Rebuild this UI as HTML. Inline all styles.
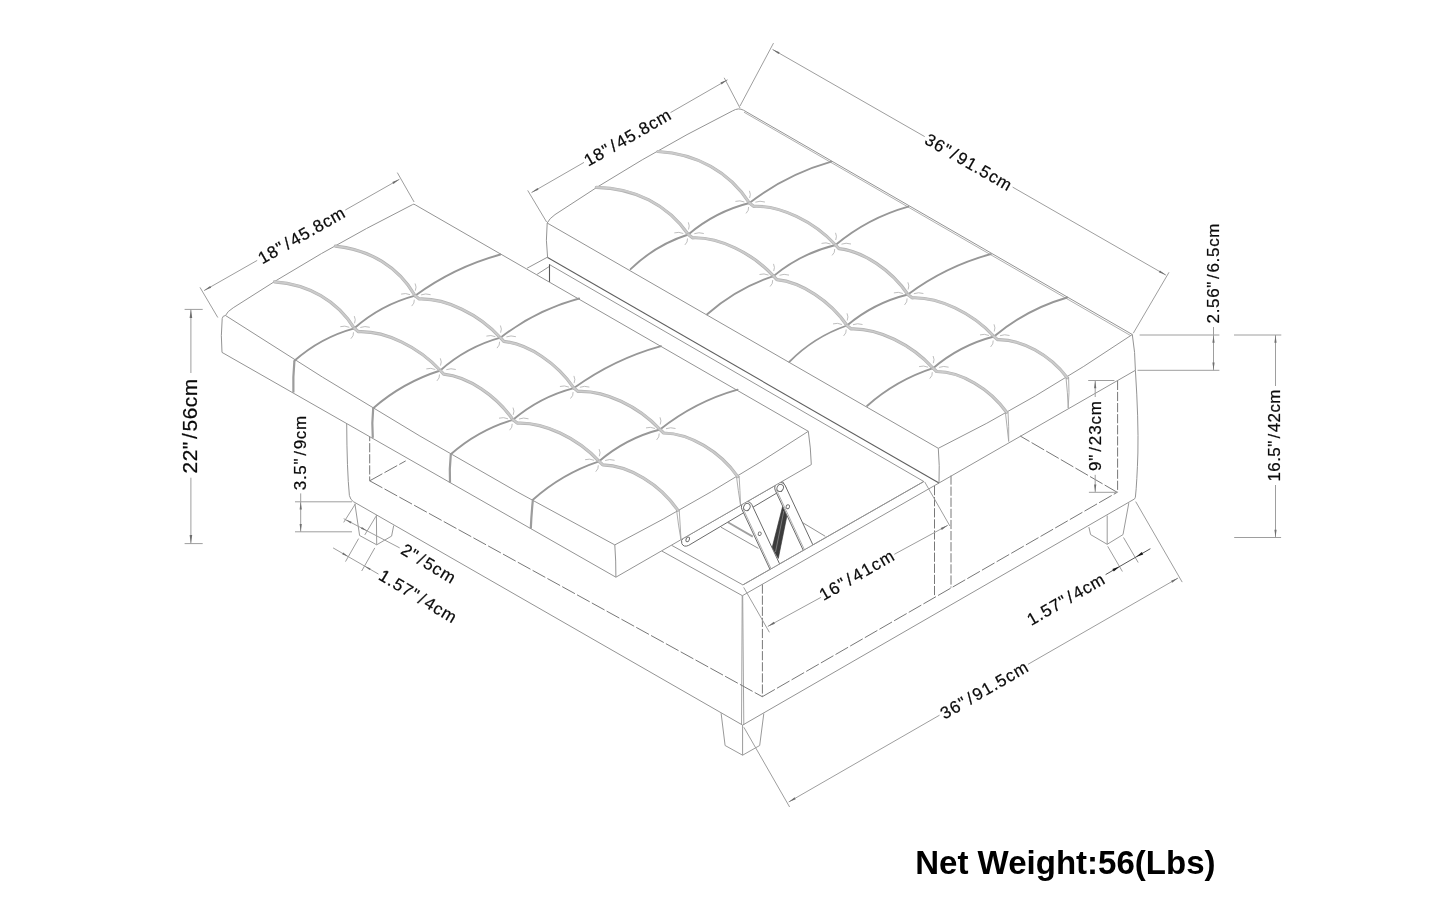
<!DOCTYPE html>
<html><head><meta charset="utf-8"><title>Ottoman dimensions</title>
<style>
html,body{margin:0;padding:0;background:#fff;}
body{width:1445px;height:905px;overflow:hidden;font-family:"Liberation Sans",sans-serif;}
svg{display:block;will-change:transform;filter:grayscale(1);}
svg text{font-family:"Liberation Sans",sans-serif;}
</style></head><body>
<svg width="1445" height="905" viewBox="0 0 1445 905">
<rect width="1445" height="905" fill="#fff"/>
<path d="M354.9,503.7 L359.6,535.5 L376.7,544.8 L391.6,536.1 L393.7,525.5" stroke="#9a9a9a" stroke-width="1.0" fill="none" />
<line x1="376.4" y1="515.0" x2="376.7" y2="544.8" stroke="#9a9a9a" stroke-width="1.0" />
<path d="M721.1,713.2 L725.1,745.5 L742.6,755.2 L759.7,745.5 L763.8,713.5" stroke="#9a9a9a" stroke-width="1.0" fill="none" />
<line x1="742.6" y1="725.1" x2="742.6" y2="755.2" stroke="#9a9a9a" stroke-width="1.0" />
<path d="M1128.8,503.1 L1123.0,534.6 L1107.2,544.3 L1090.6,534.6 L1088.9,527.1" stroke="#9a9a9a" stroke-width="1.0" fill="none" />
<line x1="1107.2" y1="515.5" x2="1107.2" y2="544.3" stroke="#9a9a9a" stroke-width="1.0" />
<path d="M346.7,423 Q346.9,470 349.4,495.5 Q350.5,500 353.3,501.6" stroke="#949494" stroke-width="1.0" fill="none" />
<line x1="353.3" y1="501.6" x2="742.6" y2="725.1" stroke="#949494" stroke-width="1.0" />
<line x1="742.2" y1="595.7" x2="741.5" y2="725.0" stroke="#9a9a9a" stroke-width="0.9" />
<line x1="742.7" y1="595.7" x2="743.8" y2="725.0" stroke="#9a9a9a" stroke-width="0.9" />
<line x1="742.6" y1="725.1" x2="1134.6" y2="498.9" stroke="#949494" stroke-width="1.0" />
<path d="M1135.4,370.3 Q1138.6,420 1137.9,453 Q1137,482 1135.4,497.2 L1134.6,498.9" stroke="#949494" stroke-width="1.0" fill="none" />
<line x1="742.4" y1="595.7" x2="661.6" y2="550.9" stroke="#949494" stroke-width="1.0" />
<line x1="742.9" y1="584.9" x2="671.4" y2="545.2" stroke="#949494" stroke-width="1.0" />
<line x1="742.4" y1="595.7" x2="939.0" y2="483.0" stroke="#949494" stroke-width="1.0" />
<line x1="742.9" y1="584.9" x2="923.8" y2="481.5" stroke="#949494" stroke-width="1.0" />
<line x1="549.5" y1="264.6" x2="923.8" y2="481.5" stroke="#8a8a8a" stroke-width="0.9" />
<line x1="527.1" y1="268.2" x2="547.6" y2="257.1" stroke="#949494" stroke-width="1.0" />
<line x1="537.1" y1="274.3" x2="549.3" y2="266.5" stroke="#949494" stroke-width="1.0" />
<line x1="549.5" y1="264.3" x2="549.5" y2="282.0" stroke="#555" stroke-width="1.1" />
<line x1="802.9" y1="522.8" x2="825.3" y2="536.3" stroke="#949494" stroke-width="1.0" />
<line x1="721.0" y1="527.2" x2="758.4" y2="548.4" stroke="#949494" stroke-width="1.0" />
<line x1="727.9" y1="522.3" x2="752.8" y2="536.6" stroke="#a0a0a0" stroke-width="1.8" />
<line x1="369.7" y1="432.0" x2="369.7" y2="480.8" stroke="#787878" stroke-width="1.0" stroke-dasharray="9.2 1.9" />
<line x1="369.7" y1="480.8" x2="405.7" y2="460.9" stroke="#787878" stroke-width="1.0" stroke-dasharray="14.5 2.4" />
<line x1="369.7" y1="480.8" x2="762.3" y2="696.7" stroke="#787878" stroke-width="1.0" stroke-dasharray="14.5 2.4" />
<line x1="762.4" y1="584.5" x2="762.4" y2="696.7" stroke="#787878" stroke-width="1.0" stroke-dasharray="9.2 1.9" />
<line x1="762.3" y1="696.7" x2="1117.2" y2="492.3" stroke="#787878" stroke-width="1.0" stroke-dasharray="14.5 2.4" />
<line x1="1117.6" y1="380.8" x2="1117.6" y2="492.3" stroke="#787878" stroke-width="1.0" stroke-dasharray="9.2 1.9" />
<line x1="1117.2" y1="492.3" x2="1020.0" y2="435.9" stroke="#787878" stroke-width="1.0" stroke-dasharray="14.5 2.4" />
<line x1="934.5" y1="486.0" x2="934.5" y2="597.2" stroke="#787878" stroke-width="1.0" stroke-dasharray="9.2 1.9" />
<line x1="951.0" y1="475.5" x2="951.0" y2="587.6" stroke="#787878" stroke-width="1.0" stroke-dasharray="9.2 1.9" />
<path d="M547.2,223 Q549.3,218.6 555,214.6" stroke="#949494" stroke-width="1.0" fill="none" />
<path d="M555.0,214.6 Q640.5,157.0 732.7,110.8" stroke="#949494" stroke-width="1.0" fill="none" />
<path d="M732.7,110.8 Q738.6,107.4 743.5,110.2" stroke="#949494" stroke-width="1.0" fill="none" />
<line x1="743.5" y1="110.2" x2="1132.3" y2="334.5" stroke="#949494" stroke-width="1.0" />
<line x1="744.0" y1="112.2" x2="1130.8" y2="335.7" stroke="#9a9a9a" stroke-width="0.8" />
<line x1="547.2" y1="223.0" x2="938.3" y2="448.3" stroke="#949494" stroke-width="1.0" />
<path d="M938.3,448.3 Q1035.3,400.5 1132.3,334.5" stroke="#949494" stroke-width="1.0" fill="none" />
<path d="M547.2,223 Q545.4000000000001,240.25 547.6,257.5" stroke="#949494" stroke-width="1.0" fill="none" />
<line x1="547.6" y1="257.5" x2="939.0" y2="483.0" stroke="#5f5f5f" stroke-width="1.1" />
<path d="M938.3,448.3 Q939.8,465.65 939,483" stroke="#949494" stroke-width="1.0" fill="none" />
<line x1="939.0" y1="483.0" x2="1135.4" y2="370.3" stroke="#949494" stroke-width="1.0" />
<path d="M1132.3,334.5 Q1135.3,352.4 1135.4,370.3" stroke="#949494" stroke-width="1.0" fill="none" />
<path d="M831.3,161.7 Q786.4,174.5 749.4,203.0" stroke="#979797" stroke-width="1.85" fill="none" stroke-linecap="round"/>
<path d="M749.4,203.0 Q715.2,211.6 688.3,234.5" stroke="#979797" stroke-width="1.85" fill="none" stroke-linecap="round"/>
<path d="M688.3,234.5 Q655.3,245.0 630.6,269.2" stroke="#979797" stroke-width="1.85" fill="none" stroke-linecap="round"/>
<path d="M908.3,206.6 Q867.8,218.0 835.5,245.0" stroke="#979797" stroke-width="1.85" fill="none" stroke-linecap="round"/>
<path d="M835.5,245.0 Q800.9,253.4 773.5,276.1" stroke="#979797" stroke-width="1.85" fill="none" stroke-linecap="round"/>
<path d="M773.5,276.1 Q736.4,288.3 707.2,314.3" stroke="#979797" stroke-width="1.85" fill="none" stroke-linecap="round"/>
<path d="M990.8,254.1 Q945.5,266.4 907.9,294.5" stroke="#979797" stroke-width="1.85" fill="none" stroke-linecap="round"/>
<path d="M907.9,294.5 Q873.8,302.9 847.0,325.5" stroke="#979797" stroke-width="1.85" fill="none" stroke-linecap="round"/>
<path d="M847.0,325.5 Q813.9,336.9 789.3,361.9" stroke="#979797" stroke-width="1.85" fill="none" stroke-linecap="round"/>
<path d="M1067.2,297.5 Q1026.5,309.2 994.0,336.5" stroke="#979797" stroke-width="1.85" fill="none" stroke-linecap="round"/>
<path d="M994.0,336.5 Q959.9,345.3 933.1,368.2" stroke="#979797" stroke-width="1.85" fill="none" stroke-linecap="round"/>
<path d="M933.1,368.2 Q896.1,380.2 867.0,406.0" stroke="#979797" stroke-width="1.85" fill="none" stroke-linecap="round"/>
<path d="M657.9,151.5 C696.5,153.6 729.6,171.9 749.4,203.0" stroke="#b2b2b2" stroke-width="3.2" fill="none" stroke-linecap="round" stroke-linejoin="round"/>
<path d="M657.9,151.5 C696.5,153.6 729.6,171.9 749.4,203.0" stroke="#cbcbcb" stroke-width="1.9" fill="none" stroke-linecap="round" stroke-linejoin="round"/>
<path d="M749.4,203.0 L753.6,206.3 C780.3,205.3 813.9,221.4 835.5,245.0" stroke="#b2b2b2" stroke-width="3.2" fill="none" stroke-linecap="round" stroke-linejoin="round"/>
<path d="M749.4,203.0 L753.6,206.3 C780.3,205.3 813.9,221.4 835.5,245.0" stroke="#cbcbcb" stroke-width="1.9" fill="none" stroke-linecap="round" stroke-linejoin="round"/>
<path d="M835.5,245.0 L838.9,248.6 C863.2,251.2 891.5,270.3 907.9,294.5" stroke="#b2b2b2" stroke-width="3.2" fill="none" stroke-linecap="round" stroke-linejoin="round"/>
<path d="M835.5,245.0 L838.9,248.6 C863.2,251.2 891.5,270.3 907.9,294.5" stroke="#cbcbcb" stroke-width="1.9" fill="none" stroke-linecap="round" stroke-linejoin="round"/>
<path d="M907.9,294.5 L912.1,297.8 C938.8,296.8 972.4,312.9 994.0,336.5" stroke="#b2b2b2" stroke-width="3.2" fill="none" stroke-linecap="round" stroke-linejoin="round"/>
<path d="M907.9,294.5 L912.1,297.8 C938.8,296.8 972.4,312.9 994.0,336.5" stroke="#cbcbcb" stroke-width="1.9" fill="none" stroke-linecap="round" stroke-linejoin="round"/>
<path d="M994.0,336.5 L997.5,339.6 C1021.5,339.1 1050.1,355.0 1067.2,377.7" stroke="#b2b2b2" stroke-width="3.2" fill="none" stroke-linecap="round" stroke-linejoin="round"/>
<path d="M994.0,336.5 L997.5,339.6 C1021.5,339.1 1050.1,355.0 1067.2,377.7" stroke="#cbcbcb" stroke-width="1.9" fill="none" stroke-linecap="round" stroke-linejoin="round"/>
<path d="M596.3,187.3 C634.3,187.9 667.6,204.6 688.3,234.5" stroke="#b2b2b2" stroke-width="3.2" fill="none" stroke-linecap="round" stroke-linejoin="round"/>
<path d="M596.3,187.3 C634.3,187.9 667.6,204.6 688.3,234.5" stroke="#cbcbcb" stroke-width="1.9" fill="none" stroke-linecap="round" stroke-linejoin="round"/>
<path d="M688.3,234.5 L692.5,237.8 C718.9,236.8 752.2,252.8 773.5,276.1" stroke="#b2b2b2" stroke-width="3.2" fill="none" stroke-linecap="round" stroke-linejoin="round"/>
<path d="M688.3,234.5 L692.5,237.8 C718.9,236.8 752.2,252.8 773.5,276.1" stroke="#cbcbcb" stroke-width="1.9" fill="none" stroke-linecap="round" stroke-linejoin="round"/>
<path d="M773.5,276.1 L776.9,279.7 C801.5,282.1 830.3,301.2 847.0,325.5" stroke="#b2b2b2" stroke-width="3.2" fill="none" stroke-linecap="round" stroke-linejoin="round"/>
<path d="M773.5,276.1 L776.9,279.7 C801.5,282.1 830.3,301.2 847.0,325.5" stroke="#cbcbcb" stroke-width="1.9" fill="none" stroke-linecap="round" stroke-linejoin="round"/>
<path d="M847.0,325.5 L851.2,328.9 C878.0,328.0 911.6,344.4 933.1,368.2" stroke="#b2b2b2" stroke-width="3.2" fill="none" stroke-linecap="round" stroke-linejoin="round"/>
<path d="M847.0,325.5 L851.2,328.9 C878.0,328.0 911.6,344.4 933.1,368.2" stroke="#cbcbcb" stroke-width="1.9" fill="none" stroke-linecap="round" stroke-linejoin="round"/>
<path d="M933.1,368.2 L936.6,371.5 C961.0,371.6 989.8,388.6 1006.6,412.3" stroke="#b2b2b2" stroke-width="3.2" fill="none" stroke-linecap="round" stroke-linejoin="round"/>
<path d="M933.1,368.2 L936.6,371.5 C961.0,371.6 989.8,388.6 1006.6,412.3" stroke="#cbcbcb" stroke-width="1.9" fill="none" stroke-linecap="round" stroke-linejoin="round"/>
<path d="M744.4,202.0 q-4.5,-2.0 -9,-0.6" stroke="#b2b2b2" stroke-width="0.85" fill="none" />
<path d="M755.4,202.2 q4.5,-1.8 9.5,-0.2" stroke="#b2b2b2" stroke-width="0.85" fill="none" />
<path d="M749.6,198.0 q1.6,-3.6 -0.2,-7.2" stroke="#b2b2b2" stroke-width="0.85" fill="none" />
<path d="M748.6,207.0 q0.4,3.6 -2.6,6.4" stroke="#b2b2b2" stroke-width="0.85" fill="none" />
<path d="M830.5,244.0 q-4.5,-2.0 -9,-0.6" stroke="#b2b2b2" stroke-width="0.85" fill="none" />
<path d="M841.5,244.2 q4.5,-1.8 9.5,-0.2" stroke="#b2b2b2" stroke-width="0.85" fill="none" />
<path d="M835.7,240.0 q1.6,-3.6 -0.2,-7.2" stroke="#b2b2b2" stroke-width="0.85" fill="none" />
<path d="M834.7,249.0 q0.4,3.6 -2.6,6.4" stroke="#b2b2b2" stroke-width="0.85" fill="none" />
<path d="M902.9,293.5 q-4.5,-2.0 -9,-0.6" stroke="#b2b2b2" stroke-width="0.85" fill="none" />
<path d="M913.9,293.7 q4.5,-1.8 9.5,-0.2" stroke="#b2b2b2" stroke-width="0.85" fill="none" />
<path d="M908.1,289.5 q1.6,-3.6 -0.2,-7.2" stroke="#b2b2b2" stroke-width="0.85" fill="none" />
<path d="M907.1,298.5 q0.4,3.6 -2.6,6.4" stroke="#b2b2b2" stroke-width="0.85" fill="none" />
<path d="M989.0,335.5 q-4.5,-2.0 -9,-0.6" stroke="#b2b2b2" stroke-width="0.85" fill="none" />
<path d="M1000.0,335.7 q4.5,-1.8 9.5,-0.2" stroke="#b2b2b2" stroke-width="0.85" fill="none" />
<path d="M994.2,331.5 q1.6,-3.6 -0.2,-7.2" stroke="#b2b2b2" stroke-width="0.85" fill="none" />
<path d="M993.2,340.5 q0.4,3.6 -2.6,6.4" stroke="#b2b2b2" stroke-width="0.85" fill="none" />
<path d="M683.3,233.5 q-4.5,-2.0 -9,-0.6" stroke="#b2b2b2" stroke-width="0.85" fill="none" />
<path d="M694.3,233.7 q4.5,-1.8 9.5,-0.2" stroke="#b2b2b2" stroke-width="0.85" fill="none" />
<path d="M688.5,229.5 q1.6,-3.6 -0.2,-7.2" stroke="#b2b2b2" stroke-width="0.85" fill="none" />
<path d="M687.5,238.5 q0.4,3.6 -2.6,6.4" stroke="#b2b2b2" stroke-width="0.85" fill="none" />
<path d="M768.5,275.1 q-4.5,-2.0 -9,-0.6" stroke="#b2b2b2" stroke-width="0.85" fill="none" />
<path d="M779.5,275.3 q4.5,-1.8 9.5,-0.2" stroke="#b2b2b2" stroke-width="0.85" fill="none" />
<path d="M773.7,271.1 q1.6,-3.6 -0.2,-7.2" stroke="#b2b2b2" stroke-width="0.85" fill="none" />
<path d="M772.7,280.1 q0.4,3.6 -2.6,6.4" stroke="#b2b2b2" stroke-width="0.85" fill="none" />
<path d="M842.0,324.5 q-4.5,-2.0 -9,-0.6" stroke="#b2b2b2" stroke-width="0.85" fill="none" />
<path d="M853.0,324.7 q4.5,-1.8 9.5,-0.2" stroke="#b2b2b2" stroke-width="0.85" fill="none" />
<path d="M847.2,320.5 q1.6,-3.6 -0.2,-7.2" stroke="#b2b2b2" stroke-width="0.85" fill="none" />
<path d="M846.2,329.5 q0.4,3.6 -2.6,6.4" stroke="#b2b2b2" stroke-width="0.85" fill="none" />
<path d="M928.1,367.2 q-4.5,-2.0 -9,-0.6" stroke="#b2b2b2" stroke-width="0.85" fill="none" />
<path d="M939.1,367.4 q4.5,-1.8 9.5,-0.2" stroke="#b2b2b2" stroke-width="0.85" fill="none" />
<path d="M933.3,363.2 q1.6,-3.6 -0.2,-7.2" stroke="#b2b2b2" stroke-width="0.85" fill="none" />
<path d="M932.3,372.2 q0.4,3.6 -2.6,6.4" stroke="#b2b2b2" stroke-width="0.85" fill="none" />
<path d="M1005.4,412.3 Q1007.1,426.9 1008.7,441.5 Q1009.0,426.9 1008.0,411.7" stroke="#a5a5a5" stroke-width="0.9" fill="none" />
<path d="M1066.0,377.7 Q1067.7,392.85 1068.2,408 Q1069.6000000000001,392.85 1068.6000000000001,377.09999999999997" stroke="#a5a5a5" stroke-width="0.9" fill="none" />
<path d="M683.3,538.3 L782.5,481.3 L786,487.6 L688.6,545.4 Q683.8,547.6 681.8,543.6 Q680.6,540 683.3,538.3 Z" fill="#fff" stroke="#6a6a6a" stroke-width="1"/>
<ellipse cx="687.9" cy="539.3" rx="1.6" ry="2.4" fill="#fff" stroke="#6a6a6a" stroke-width="0.9" transform="rotate(25 687.6 538.9)"/>
<path d="M782.7,506.1 L787,515.4 L778.3,558.4 L772.1,547.8 Z" fill="#3c3c3c" stroke="#333" stroke-width="0.6"/>
<line x1="783.8" y1="511" x2="775.5" y2="552" stroke="#8a8a8a" stroke-width="0.8"/>
<path d="M803.3,550.4 L775.2,490.2 A5.5,5.5 0 0 1 785.2,485.6 L812.9,544.9 Z" fill="#fff" stroke="none"/>
<path d="M803.3,550.4 L775.2,490.2 A5.5,5.5 0 0 1 785.2,485.6 L812.9,544.9" fill="none" stroke="#6a6a6a" stroke-width="1"/>
<line x1="776.4" y1="489.7" x2="804.4" y2="549.7" stroke="#9a9a9a" stroke-width="0.8"/>
<ellipse cx="780.2" cy="487.9" rx="3.1" ry="3.7" fill="#fff" stroke="#6a6a6a" stroke-width="0.9" transform="rotate(25 780.2 487.9)"/>
<ellipse cx="787.8" cy="506.7" rx="1.7" ry="2.0" fill="#fff" stroke="#6a6a6a" stroke-width="0.9" transform="rotate(25 787.8 506.7)"/>
<path d="M770.0,569.4 L741.9,509.3 A5.5,5.5 0 0 1 751.9,504.7 L779.6,563.9 Z" fill="#fff" stroke="none"/>
<path d="M770.0,569.4 L741.9,509.3 A5.5,5.5 0 0 1 751.9,504.7 L779.6,563.9" fill="none" stroke="#6a6a6a" stroke-width="1"/>
<line x1="743.1" y1="508.8" x2="771.1" y2="568.8" stroke="#9a9a9a" stroke-width="0.8"/>
<ellipse cx="746.9" cy="507.0" rx="3.1" ry="3.7" fill="#fff" stroke="#6a6a6a" stroke-width="0.9" transform="rotate(25 746.9 507.0)"/>
<ellipse cx="759.7" cy="533.7" rx="1.5" ry="1.8" fill="#fff" stroke="#6a6a6a" stroke-width="0.9" transform="rotate(25 759.7 533.7)"/>
<line x1="742.9" y1="584.9" x2="923.8" y2="481.5" stroke="#949494" stroke-width="1.0" />
<path d="M225.5,315.5 L414,204 L808.3,431.3 L811.3,464.6 L615.9,577.2 L222,352.4 Z" fill="#fff" stroke="none"/>
<path d="M225.5,315.5 Q227.2,311.5 233.2,307.8" stroke="#949494" stroke-width="1.0" fill="none" />
<path d="M233.2,307.8 Q319.9,251.0 412.6,204.6" stroke="#949494" stroke-width="1.0" fill="none" />
<path d="M412.6,204.6 Q413.8,203.7 415.2,204.8" stroke="#949494" stroke-width="1.0" fill="none" />
<line x1="415.2" y1="204.8" x2="808.3" y2="431.3" stroke="#949494" stroke-width="1.0" />
<path d="M225.5,315.5 Q419.6,441.8 614.8,544.9" stroke="#949494" stroke-width="1.0" fill="none" />
<path d="M614.8,544.9 Q711.5,495 808.3,431.3" stroke="#949494" stroke-width="1.0" fill="none" />
<path d="M225.5,315.5 Q222.6,315.6 222.2,318.5 Q220.6,336 222,352.4" stroke="#949494" stroke-width="1.0" fill="none" />
<line x1="222.0" y1="352.4" x2="615.9" y2="577.2" stroke="#949494" stroke-width="1.0" />
<path d="M614.8,544.9 Q616.0,561.05 615.9,577.2" stroke="#949494" stroke-width="1.0" fill="none" />
<line x1="615.9" y1="577.2" x2="811.3" y2="464.6" stroke="#949494" stroke-width="1.0" />
<path d="M808.3,431.3 Q810.8,447.95000000000005 811.3,464.6" stroke="#949494" stroke-width="1.0" fill="none" />
<path d="M500.4,254.5 Q453.9,267.2 415.1,295.7" stroke="#979797" stroke-width="1.85" fill="none" stroke-linecap="round"/>
<path d="M415.1,295.7 Q380.9,304.9 354.3,328.3" stroke="#979797" stroke-width="1.85" fill="none" stroke-linecap="round"/>
<path d="M354.3,328.3 Q320.5,337.5 294.4,360.8" stroke="#979797" stroke-width="1.85" fill="none" stroke-linecap="round"/>
<path d="M579.1,298.5 Q535.8,310.2 500.4,337.7" stroke="#979797" stroke-width="1.85" fill="none" stroke-linecap="round"/>
<path d="M500.4,337.7 Q466.5,347.1 440.3,370.5" stroke="#979797" stroke-width="1.85" fill="none" stroke-linecap="round"/>
<path d="M440.3,370.5 Q402.8,382.4 373.2,408.2" stroke="#979797" stroke-width="1.85" fill="none" stroke-linecap="round"/>
<path d="M661.0,346.1 Q613.6,359.2 573.9,388.1" stroke="#979797" stroke-width="1.85" fill="none" stroke-linecap="round"/>
<path d="M573.9,388.1 Q539.8,396.9 513.0,419.8" stroke="#979797" stroke-width="1.85" fill="none" stroke-linecap="round"/>
<path d="M513.0,419.8 Q478.0,430.1 450.8,454.3" stroke="#979797" stroke-width="1.85" fill="none" stroke-linecap="round"/>
<path d="M737.6,389.6 Q694.8,401.7 660.0,429.5" stroke="#979797" stroke-width="1.85" fill="none" stroke-linecap="round"/>
<path d="M660.0,429.5 Q625.8,438.3 599.1,461.3" stroke="#979797" stroke-width="1.85" fill="none" stroke-linecap="round"/>
<path d="M599.1,461.3 Q562.0,473.6 532.9,499.7" stroke="#979797" stroke-width="1.85" fill="none" stroke-linecap="round"/>
<path d="M335.4,246.1 C369.8,249.5 398.6,267.1 415.1,295.7" stroke="#b2b2b2" stroke-width="3.2" fill="none" stroke-linecap="round" stroke-linejoin="round"/>
<path d="M335.4,246.1 C369.8,249.5 398.6,267.1 415.1,295.7" stroke="#cbcbcb" stroke-width="1.9" fill="none" stroke-linecap="round" stroke-linejoin="round"/>
<path d="M415.1,295.7 L419.3,299.0 C445.7,298.1 479.1,314.2 500.4,337.7" stroke="#b2b2b2" stroke-width="3.2" fill="none" stroke-linecap="round" stroke-linejoin="round"/>
<path d="M415.1,295.7 L419.3,299.0 C445.7,298.1 479.1,314.2 500.4,337.7" stroke="#cbcbcb" stroke-width="1.9" fill="none" stroke-linecap="round" stroke-linejoin="round"/>
<path d="M500.4,337.7 L503.8,341.4 C528.5,344.0 557.3,363.5 573.9,388.1" stroke="#b2b2b2" stroke-width="3.2" fill="none" stroke-linecap="round" stroke-linejoin="round"/>
<path d="M500.4,337.7 L503.8,341.4 C528.5,344.0 557.3,363.5 573.9,388.1" stroke="#cbcbcb" stroke-width="1.9" fill="none" stroke-linecap="round" stroke-linejoin="round"/>
<path d="M573.9,388.1 L578.1,391.4 C604.7,390.2 638.4,406.1 660.0,429.5" stroke="#b2b2b2" stroke-width="3.2" fill="none" stroke-linecap="round" stroke-linejoin="round"/>
<path d="M573.9,388.1 L578.1,391.4 C604.7,390.2 638.4,406.1 660.0,429.5" stroke="#cbcbcb" stroke-width="1.9" fill="none" stroke-linecap="round" stroke-linejoin="round"/>
<path d="M660.0,429.5 L663.7,433.0 C689.6,433.3 720.0,451.4 737.7,476.6" stroke="#b2b2b2" stroke-width="3.2" fill="none" stroke-linecap="round" stroke-linejoin="round"/>
<path d="M660.0,429.5 L663.7,433.0 C689.6,433.3 720.0,451.4 737.7,476.6" stroke="#cbcbcb" stroke-width="1.9" fill="none" stroke-linecap="round" stroke-linejoin="round"/>
<path d="M274.5,281.8 C308.4,284.2 337.3,300.6 354.3,328.3" stroke="#b2b2b2" stroke-width="3.2" fill="none" stroke-linecap="round" stroke-linejoin="round"/>
<path d="M274.5,281.8 C308.4,284.2 337.3,300.6 354.3,328.3" stroke="#cbcbcb" stroke-width="1.9" fill="none" stroke-linecap="round" stroke-linejoin="round"/>
<path d="M354.3,328.3 L358.5,331.7 C385.2,330.6 418.8,346.9 440.3,370.5" stroke="#b2b2b2" stroke-width="3.2" fill="none" stroke-linecap="round" stroke-linejoin="round"/>
<path d="M354.3,328.3 L358.5,331.7 C385.2,330.6 418.8,346.9 440.3,370.5" stroke="#cbcbcb" stroke-width="1.9" fill="none" stroke-linecap="round" stroke-linejoin="round"/>
<path d="M440.3,370.5 L443.7,374.1 C468.0,376.6 496.5,395.6 513.0,419.8" stroke="#b2b2b2" stroke-width="3.2" fill="none" stroke-linecap="round" stroke-linejoin="round"/>
<path d="M440.3,370.5 L443.7,374.1 C468.0,376.6 496.5,395.6 513.0,419.8" stroke="#cbcbcb" stroke-width="1.9" fill="none" stroke-linecap="round" stroke-linejoin="round"/>
<path d="M513.0,419.8 L517.2,423.1 C543.8,421.9 577.5,437.9 599.1,461.3" stroke="#b2b2b2" stroke-width="3.2" fill="none" stroke-linecap="round" stroke-linejoin="round"/>
<path d="M513.0,419.8 L517.2,423.1 C543.8,421.9 577.5,437.9 599.1,461.3" stroke="#cbcbcb" stroke-width="1.9" fill="none" stroke-linecap="round" stroke-linejoin="round"/>
<path d="M599.1,461.3 L602.8,464.9 C629.2,465.5 660.1,484.3 677.8,510.2" stroke="#b2b2b2" stroke-width="3.2" fill="none" stroke-linecap="round" stroke-linejoin="round"/>
<path d="M599.1,461.3 L602.8,464.9 C629.2,465.5 660.1,484.3 677.8,510.2" stroke="#cbcbcb" stroke-width="1.9" fill="none" stroke-linecap="round" stroke-linejoin="round"/>
<path d="M410.1,294.7 q-4.5,-2.0 -9,-0.6" stroke="#b2b2b2" stroke-width="0.85" fill="none" />
<path d="M421.1,294.9 q4.5,-1.8 9.5,-0.2" stroke="#b2b2b2" stroke-width="0.85" fill="none" />
<path d="M415.3,290.7 q1.6,-3.6 -0.2,-7.2" stroke="#b2b2b2" stroke-width="0.85" fill="none" />
<path d="M414.3,299.7 q0.4,3.6 -2.6,6.4" stroke="#b2b2b2" stroke-width="0.85" fill="none" />
<path d="M495.4,336.7 q-4.5,-2.0 -9,-0.6" stroke="#b2b2b2" stroke-width="0.85" fill="none" />
<path d="M506.4,336.9 q4.5,-1.8 9.5,-0.2" stroke="#b2b2b2" stroke-width="0.85" fill="none" />
<path d="M500.6,332.7 q1.6,-3.6 -0.2,-7.2" stroke="#b2b2b2" stroke-width="0.85" fill="none" />
<path d="M499.6,341.7 q0.4,3.6 -2.6,6.4" stroke="#b2b2b2" stroke-width="0.85" fill="none" />
<path d="M568.9,387.1 q-4.5,-2.0 -9,-0.6" stroke="#b2b2b2" stroke-width="0.85" fill="none" />
<path d="M579.9,387.3 q4.5,-1.8 9.5,-0.2" stroke="#b2b2b2" stroke-width="0.85" fill="none" />
<path d="M574.1,383.1 q1.6,-3.6 -0.2,-7.2" stroke="#b2b2b2" stroke-width="0.85" fill="none" />
<path d="M573.1,392.1 q0.4,3.6 -2.6,6.4" stroke="#b2b2b2" stroke-width="0.85" fill="none" />
<path d="M655.0,428.5 q-4.5,-2.0 -9,-0.6" stroke="#b2b2b2" stroke-width="0.85" fill="none" />
<path d="M666.0,428.7 q4.5,-1.8 9.5,-0.2" stroke="#b2b2b2" stroke-width="0.85" fill="none" />
<path d="M660.2,424.5 q1.6,-3.6 -0.2,-7.2" stroke="#b2b2b2" stroke-width="0.85" fill="none" />
<path d="M659.2,433.5 q0.4,3.6 -2.6,6.4" stroke="#b2b2b2" stroke-width="0.85" fill="none" />
<path d="M349.3,327.3 q-4.5,-2.0 -9,-0.6" stroke="#b2b2b2" stroke-width="0.85" fill="none" />
<path d="M360.3,327.5 q4.5,-1.8 9.5,-0.2" stroke="#b2b2b2" stroke-width="0.85" fill="none" />
<path d="M354.5,323.3 q1.6,-3.6 -0.2,-7.2" stroke="#b2b2b2" stroke-width="0.85" fill="none" />
<path d="M353.5,332.3 q0.4,3.6 -2.6,6.4" stroke="#b2b2b2" stroke-width="0.85" fill="none" />
<path d="M435.3,369.5 q-4.5,-2.0 -9,-0.6" stroke="#b2b2b2" stroke-width="0.85" fill="none" />
<path d="M446.3,369.7 q4.5,-1.8 9.5,-0.2" stroke="#b2b2b2" stroke-width="0.85" fill="none" />
<path d="M440.5,365.5 q1.6,-3.6 -0.2,-7.2" stroke="#b2b2b2" stroke-width="0.85" fill="none" />
<path d="M439.5,374.5 q0.4,3.6 -2.6,6.4" stroke="#b2b2b2" stroke-width="0.85" fill="none" />
<path d="M508.0,418.8 q-4.5,-2.0 -9,-0.6" stroke="#b2b2b2" stroke-width="0.85" fill="none" />
<path d="M519.0,419.0 q4.5,-1.8 9.5,-0.2" stroke="#b2b2b2" stroke-width="0.85" fill="none" />
<path d="M513.2,414.8 q1.6,-3.6 -0.2,-7.2" stroke="#b2b2b2" stroke-width="0.85" fill="none" />
<path d="M512.2,423.8 q0.4,3.6 -2.6,6.4" stroke="#b2b2b2" stroke-width="0.85" fill="none" />
<path d="M594.1,460.3 q-4.5,-2.0 -9,-0.6" stroke="#b2b2b2" stroke-width="0.85" fill="none" />
<path d="M605.1,460.5 q4.5,-1.8 9.5,-0.2" stroke="#b2b2b2" stroke-width="0.85" fill="none" />
<path d="M599.3,456.3 q1.6,-3.6 -0.2,-7.2" stroke="#b2b2b2" stroke-width="0.85" fill="none" />
<path d="M598.3,465.3 q0.4,3.6 -2.6,6.4" stroke="#b2b2b2" stroke-width="0.85" fill="none" />
<path d="M294.4,360.8 Q292.9,376.70000000000005 293.4,392.6" stroke="#9c9c9c" stroke-width="2.2" fill="none" />
<path d="M373.2,408.2 Q371.7,423.0 372.8,437.8" stroke="#9c9c9c" stroke-width="2.2" fill="none" />
<path d="M450.8,454.3 Q449.3,468.6 450,482.9" stroke="#9c9c9c" stroke-width="2.2" fill="none" />
<path d="M532.9,499.7 Q531.4,514.15 530.8,528.6" stroke="#9c9c9c" stroke-width="2.2" fill="none" />
<path d="M676.5999999999999,510.2 Q678.3,525.1 681,540 Q680.1999999999999,525.1 679.1999999999999,509.59999999999997" stroke="#a5a5a5" stroke-width="0.9" fill="none" />
<path d="M736.5,476.6 Q738.2,490.8 740.5,505 Q740.1,490.8 739.1,476.0" stroke="#a5a5a5" stroke-width="0.9" fill="none" />
<line x1="200.0" y1="287.4" x2="217.8" y2="317.5" stroke="#9e9e9e" stroke-width="1.0" />
<line x1="397.3" y1="172.6" x2="414.1" y2="202.0" stroke="#9e9e9e" stroke-width="1.0" />
<line x1="204.1" y1="290.6" x2="257.2" y2="260.4" stroke="#9e9e9e" stroke-width="1.0" />
<line x1="345.3" y1="210.0" x2="399.4" y2="179.3" stroke="#9e9e9e" stroke-width="1.0" />
<path d="M204.1,290.6 L210.1,285.9 L211.2,287.8 Z" fill="#6e6e6e"/>
<path d="M399.4,179.3 L393.4,184.0 L392.3,182.1 Z" fill="#6e6e6e"/>
<text transform="translate(301.3,235.2) rotate(-29.80)" x="0" y="6.09" text-anchor="middle" font-size="17.0" font-weight="normal" textLength="97.0" lengthAdjust="spacing" fill="#0a0a0a" stroke="#0a0a0a" stroke-width="0.22">18"<tspan dx="1.9">/</tspan><tspan dx="1.1">4</tspan>5.8cm</text>
<line x1="527.7" y1="190.4" x2="546.6" y2="222.0" stroke="#9e9e9e" stroke-width="1.0" />
<line x1="724.2" y1="77.8" x2="740.0" y2="108.0" stroke="#9e9e9e" stroke-width="1.0" />
<line x1="531.5" y1="192.6" x2="584.0" y2="162.4" stroke="#9e9e9e" stroke-width="1.0" />
<line x1="670.5" y1="112.6" x2="727.5" y2="79.8" stroke="#9e9e9e" stroke-width="1.0" />
<path d="M531.5,192.6 L537.5,187.9 L538.5,189.8 Z" fill="#6e6e6e"/>
<path d="M727.5,79.8 L721.5,84.5 L720.5,82.6 Z" fill="#6e6e6e"/>
<text transform="translate(627.3,137.4) rotate(-29.90)" x="0" y="6.09" text-anchor="middle" font-size="17.0" font-weight="normal" textLength="97.0" lengthAdjust="spacing" fill="#0a0a0a" stroke="#0a0a0a" stroke-width="0.22">18"<tspan dx="1.9">/</tspan><tspan dx="1.1">4</tspan>5.8cm</text>
<line x1="773.5" y1="43.1" x2="740.0" y2="106.0" stroke="#9e9e9e" stroke-width="1.0" />
<line x1="1169.0" y1="272.3" x2="1133.3" y2="333.2" stroke="#9e9e9e" stroke-width="1.0" />
<line x1="772.5" y1="49.4" x2="924.7" y2="136.6" stroke="#9e9e9e" stroke-width="1.0" />
<line x1="1012.6" y1="187.1" x2="1165.9" y2="275.1" stroke="#9e9e9e" stroke-width="1.0" />
<path d="M772.5,49.4 L779.6,52.2 L778.5,54.1 Z" fill="#6e6e6e"/>
<path d="M1165.9,275.1 L1158.8,272.3 L1159.9,270.4 Z" fill="#6e6e6e"/>
<text transform="translate(968.6,161.9) rotate(29.85)" x="0" y="6.09" text-anchor="middle" font-size="17.0" font-weight="normal" textLength="97.0" lengthAdjust="spacing" fill="#0a0a0a" stroke="#0a0a0a" stroke-width="0.22">36"<tspan dx="1.9">/</tspan><tspan dx="1.1">9</tspan>1.5cm</text>
<line x1="1139.6" y1="335.0" x2="1219.4" y2="335.0" stroke="#9e9e9e" stroke-width="1.0" />
<line x1="1137.5" y1="370.3" x2="1219.4" y2="370.3" stroke="#9e9e9e" stroke-width="1.0" />
<line x1="1213.5" y1="327.0" x2="1213.5" y2="370.3" stroke="#9e9e9e" stroke-width="1.0" />
<path d="M1213.5,335.3 L1214.6,342.8 L1212.4,342.8 Z" fill="#6e6e6e"/>
<path d="M1213.5,370.0 L1212.4,362.5 L1214.6,362.5 Z" fill="#6e6e6e"/>
<text transform="translate(1213.2,273.5) rotate(-90.00)" x="0" y="6.09" text-anchor="middle" font-size="17.0" font-weight="normal" textLength="100.0" lengthAdjust="spacing" fill="#0a0a0a" stroke="#0a0a0a" stroke-width="0.22">2.56"<tspan dx="1.9">/</tspan><tspan dx="1.1">6</tspan>.5cm</text>
<line x1="1234.0" y1="335.0" x2="1281.3" y2="335.0" stroke="#9e9e9e" stroke-width="1.0" />
<line x1="1234.2" y1="537.5" x2="1281.1" y2="537.5" stroke="#9e9e9e" stroke-width="1.0" />
<line x1="1275.5" y1="335.0" x2="1275.5" y2="386.0" stroke="#9e9e9e" stroke-width="1.0" />
<line x1="1275.5" y1="485.0" x2="1275.5" y2="537.3" stroke="#9e9e9e" stroke-width="1.0" />
<path d="M1275.5,335.3 L1276.6,342.8 L1274.4,342.8 Z" fill="#6e6e6e"/>
<path d="M1275.5,537.2 L1274.4,529.7 L1276.6,529.7 Z" fill="#6e6e6e"/>
<text transform="translate(1274.3,435.5) rotate(-90.00)" x="0" y="6.09" text-anchor="middle" font-size="17.0" font-weight="normal" textLength="92.0" lengthAdjust="spacing" fill="#0a0a0a" stroke="#0a0a0a" stroke-width="0.22">16.5"<tspan dx="1.9">/</tspan><tspan dx="1.1">4</tspan>2cm</text>
<line x1="1088.2" y1="380.5" x2="1114.4" y2="380.5" stroke="#9e9e9e" stroke-width="1.0" />
<line x1="1088.9" y1="492.3" x2="1117.2" y2="492.3" stroke="#9e9e9e" stroke-width="1.0" />
<line x1="1095.2" y1="380.8" x2="1095.2" y2="397.0" stroke="#9e9e9e" stroke-width="1.0" />
<line x1="1095.2" y1="474.8" x2="1095.2" y2="492.0" stroke="#9e9e9e" stroke-width="1.0" />
<path d="M1095.2,380.8 L1096.3,388.3 L1094.1,388.3 Z" fill="#6e6e6e"/>
<path d="M1095.2,492.0 L1094.1,484.5 L1096.3,484.5 Z" fill="#6e6e6e"/>
<text transform="translate(1094.5,436.0) rotate(-90.00)" x="0" y="6.09" text-anchor="middle" font-size="17.0" font-weight="normal" textLength="70.0" lengthAdjust="spacing" fill="#0a0a0a" stroke="#0a0a0a" stroke-width="0.22">9"<tspan dx="1.9">/</tspan><tspan dx="1.1">2</tspan>3cm</text>
<line x1="184.6" y1="309.4" x2="202.7" y2="309.4" stroke="#9e9e9e" stroke-width="1.0" />
<line x1="184.6" y1="543.6" x2="202.7" y2="543.6" stroke="#9e9e9e" stroke-width="1.0" />
<line x1="190.9" y1="309.4" x2="190.9" y2="373.0" stroke="#9e9e9e" stroke-width="1.0" />
<line x1="190.9" y1="477.7" x2="190.9" y2="543.4" stroke="#9e9e9e" stroke-width="1.0" />
<path d="M190.9,309.6 L192.2,318.1 L189.6,318.1 Z" fill="#6e6e6e"/>
<path d="M190.9,543.4 L189.6,534.9 L192.2,534.9 Z" fill="#6e6e6e"/>
<text transform="translate(189.5,426.2) rotate(-90.00)" x="0" y="7.48" text-anchor="middle" font-size="20.9" font-weight="normal" textLength="94.5" lengthAdjust="spacing" fill="#0a0a0a" stroke="#0a0a0a" stroke-width="0.22">22"<tspan dx="2.3">/</tspan><tspan dx="1.4">5</tspan>6cm</text>
<line x1="295.0" y1="501.8" x2="352.0" y2="501.8" stroke="#9e9e9e" stroke-width="1.0" />
<line x1="295.0" y1="531.8" x2="352.0" y2="531.8" stroke="#9e9e9e" stroke-width="1.0" />
<line x1="300.7" y1="493.4" x2="300.7" y2="531.8" stroke="#9e9e9e" stroke-width="1.0" />
<path d="M300.7,502.0 L301.8,509.5 L299.6,509.5 Z" fill="#6e6e6e"/>
<path d="M300.7,531.6 L299.6,524.1 L301.8,524.1 Z" fill="#6e6e6e"/>
<text transform="translate(300.2,453.0) rotate(-90.00)" x="0" y="6.09" text-anchor="middle" font-size="17.0" font-weight="normal" textLength="74.5" lengthAdjust="spacing" fill="#0a0a0a" stroke="#0a0a0a" stroke-width="0.22">3.5"<tspan dx="1.9">/</tspan><tspan dx="1.1">9</tspan>cm</text>
<line x1="355.5" y1="503.7" x2="343.7" y2="522.4" stroke="#9e9e9e" stroke-width="1.0" />
<line x1="376.0" y1="516.2" x2="364.8" y2="534.9" stroke="#9e9e9e" stroke-width="1.0" />
<line x1="343.7" y1="518.7" x2="399.7" y2="547.9" stroke="#9e9e9e" stroke-width="1.0" />
<path d="M345.4,519.6 L351.6,521.7 L350.7,523.5 Z" fill="#6e6e6e"/>
<path d="M367.2,530.9 L361.0,528.8 L361.9,527.0 Z" fill="#6e6e6e"/>
<text transform="translate(428.5,563.3) rotate(31.00)" x="0" y="6.09" text-anchor="middle" font-size="17.0" font-weight="normal" textLength="60.0" lengthAdjust="spacing" fill="#0a0a0a" stroke="#0a0a0a" stroke-width="0.22">2"<tspan dx="1.9">/</tspan><tspan dx="1.1">5</tspan>cm</text>
<line x1="358.6" y1="538.6" x2="345.5" y2="561.6" stroke="#9e9e9e" stroke-width="1.0" />
<line x1="374.8" y1="547.9" x2="361.7" y2="571.0" stroke="#9e9e9e" stroke-width="1.0" />
<line x1="333.1" y1="547.9" x2="378.5" y2="574.1" stroke="#9e9e9e" stroke-width="1.0" />
<path d="M348.3,556.7 L342.2,554.3 L343.2,552.6 Z" fill="#6e6e6e"/>
<path d="M364.5,566.0 L370.6,568.4 L369.6,570.1 Z" fill="#6e6e6e"/>
<text transform="translate(418.0,596.0) rotate(31.00)" x="0" y="6.09" text-anchor="middle" font-size="17.0" font-weight="normal" textLength="87.0" lengthAdjust="spacing" fill="#0a0a0a" stroke="#0a0a0a" stroke-width="0.22">1.57"<tspan dx="1.9">/</tspan><tspan dx="1.1">4</tspan>cm</text>
<line x1="743.7" y1="587.4" x2="769.4" y2="632.3" stroke="#9e9e9e" stroke-width="1.0" />
<line x1="924.7" y1="481.9" x2="949.9" y2="526.0" stroke="#9e9e9e" stroke-width="1.0" />
<line x1="767.8" y1="626.4" x2="820.9" y2="597.4" stroke="#9e9e9e" stroke-width="1.0" />
<line x1="894.3" y1="554.3" x2="947.8" y2="525.3" stroke="#9e9e9e" stroke-width="1.0" />
<path d="M767.8,626.4 L773.8,621.8 L774.9,623.7 Z" fill="#6e6e6e"/>
<path d="M947.8,525.3 L941.8,529.9 L940.7,528.0 Z" fill="#6e6e6e"/>
<text transform="translate(856.5,575.0) rotate(-30.00)" x="0" y="6.09" text-anchor="middle" font-size="17.0" font-weight="normal" textLength="83.0" lengthAdjust="spacing" fill="#0a0a0a" stroke="#0a0a0a" stroke-width="0.22">16"<tspan dx="1.9">/</tspan><tspan dx="1.1">4</tspan>1cm</text>
<line x1="1107.7" y1="546.3" x2="1122.4" y2="571.5" stroke="#9e9e9e" stroke-width="1.0" />
<line x1="1123.5" y1="537.5" x2="1138.2" y2="562.5" stroke="#9e9e9e" stroke-width="1.0" />
<line x1="1105.6" y1="574.6" x2="1150.4" y2="548.7" stroke="#555" stroke-width="1.0" />
<path d="M1119.6,566.5 L1113.8,571.5 L1112.4,569.0 Z" fill="#1a1a1a"/>
<path d="M1136.0,557.0 L1141.8,552.0 L1143.2,554.5 Z" fill="#1a1a1a"/>
<text transform="translate(1065.6,599.2) rotate(-29.90)" x="0" y="6.09" text-anchor="middle" font-size="17.0" font-weight="normal" textLength="86.5" lengthAdjust="spacing" fill="#0a0a0a" stroke="#0a0a0a" stroke-width="0.22">1.57"<tspan dx="1.9">/</tspan><tspan dx="1.1">4</tspan>cm</text>
<line x1="743.9" y1="727.3" x2="789.6" y2="807.0" stroke="#9e9e9e" stroke-width="1.0" />
<line x1="1135.7" y1="501.6" x2="1182.2" y2="582.1" stroke="#9e9e9e" stroke-width="1.0" />
<line x1="788.7" y1="802.0" x2="939.5" y2="715.2" stroke="#9e9e9e" stroke-width="1.0" />
<line x1="1028.0" y1="664.3" x2="1178.1" y2="578.0" stroke="#9e9e9e" stroke-width="1.0" />
<path d="M788.7,802.0 L794.7,797.3 L795.7,799.2 Z" fill="#6e6e6e"/>
<path d="M1178.1,578.0 L1172.1,582.7 L1171.1,580.8 Z" fill="#6e6e6e"/>
<text transform="translate(984.0,690.0) rotate(-30.00)" x="0" y="6.09" text-anchor="middle" font-size="17.0" font-weight="normal" textLength="98.0" lengthAdjust="spacing" fill="#0a0a0a" stroke="#0a0a0a" stroke-width="0.22">36"<tspan dx="1.9">/</tspan><tspan dx="1.1">9</tspan>1.5cm</text>
<text x="915.2" y="873.6" font-size="32.6" font-weight="bold" fill="#000" textLength="300.4" lengthAdjust="spacingAndGlyphs">Net Weight:56(Lbs)</text>
</svg>
</body></html>
